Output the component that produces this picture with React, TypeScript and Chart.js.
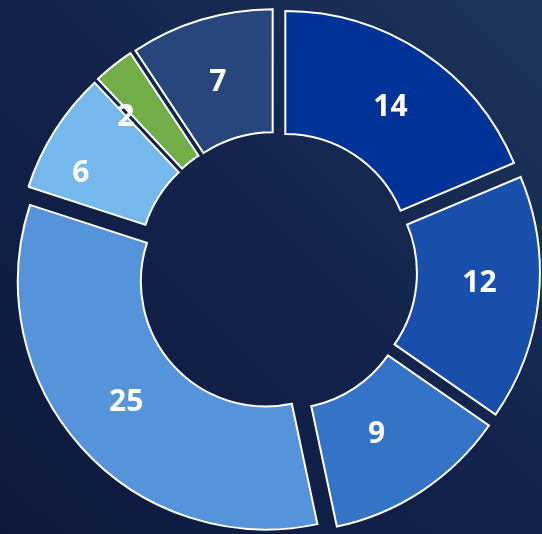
import React, { useEffect, useRef } from "react";
import { Chart, registerables } from "chart.js";

Chart.register(...registerables);

const categories = ["A", "B", "C", "D", "E", "F", "G"];
const values = [14, 12, 9, 25, 6, 2, 7];
const colors = ["#003397", "#184fab", "#3474c6", "#5594da", "#74b8ec", "#72ae47", "#27477c"];

// styling: how far each slice is pulled out, and small label nudges (px)
const EXPLODE = 15;
const LABEL_DX = [2, 2, -12, -1, -26, -26, -1];
const LABEL_DY = [3, -10, -6, -5, 9, 3, 3];

const explodePlugin = {
  id: "explodeArcs",
  beforeDatasetDraw(chart: any, args: any) {
    const ctx = chart.ctx;
    const meta = args.meta;
    meta.data.forEach((el: any) => {
      const mid = (el.startAngle + el.endAngle) / 2;
      ctx.save();
      ctx.translate(Math.cos(mid) * EXPLODE, Math.sin(mid) * EXPLODE);
      el.draw(ctx);
      ctx.restore();
    });
    return false;
  },
  afterDatasetsDraw(chart: any) {
    const ctx = chart.ctx;
    const meta = chart.getDatasetMeta(0);
    const data = chart.data.datasets[0].data;
    ctx.save();
    ctx.font = "bold 30px 'Open Sans'";
    ctx.fillStyle = "#ffffff";
    ctx.textAlign = "center";
    ctx.textBaseline = "middle";
    meta.data.forEach((el: any, i: number) => {
      const mid = (el.startAngle + el.endAngle) / 2;
      const p = el.tooltipPosition();
      ctx.fillText(
        String(data[i]),
        p.x + Math.cos(mid) * EXPLODE + (LABEL_DX[i] || 0),
        p.y + Math.sin(mid) * EXPLODE + 1 + (LABEL_DY[i] || 0)
      );
    });
    ctx.restore();
  },
};

export default function App() {
  const ref = useRef<HTMLCanvasElement>(null);
  useEffect(() => {
    if (!ref.current) return;
    const chart = new Chart(ref.current, {
      type: "doughnut",
      data: {
        labels: categories,
        datasets: [
          {
            data: values,
            backgroundColor: colors,
            borderColor: "#ffffff",
            borderWidth: 2,
            borderJoinStyle: "miter",
          },
        ],
      },
      options: {
        responsive: false,
        animation: false,
        radius: 248,
        cutout: "50.4%",
        layout: { padding: { left: 12, top: 9, right: 0, bottom: 0 } },
        plugins: {
          legend: { display: false },
          tooltip: { enabled: false },
        },
      } as any,
      plugins: [explodePlugin],
    });
    return () => chart.destroy();
  }, []);
  return (
    <div
      style={{
        position: "fixed",
        left: 0,
        top: 0,
        width: 542,
        height: 534,
        background: "linear-gradient(45deg, #0c193c 0%, #13224b 50%, #1c345b 100%)",
      }}
    >
      <canvas ref={ref} width={542} height={534} style={{ display: "block" }} />
    </div>
  );
}
